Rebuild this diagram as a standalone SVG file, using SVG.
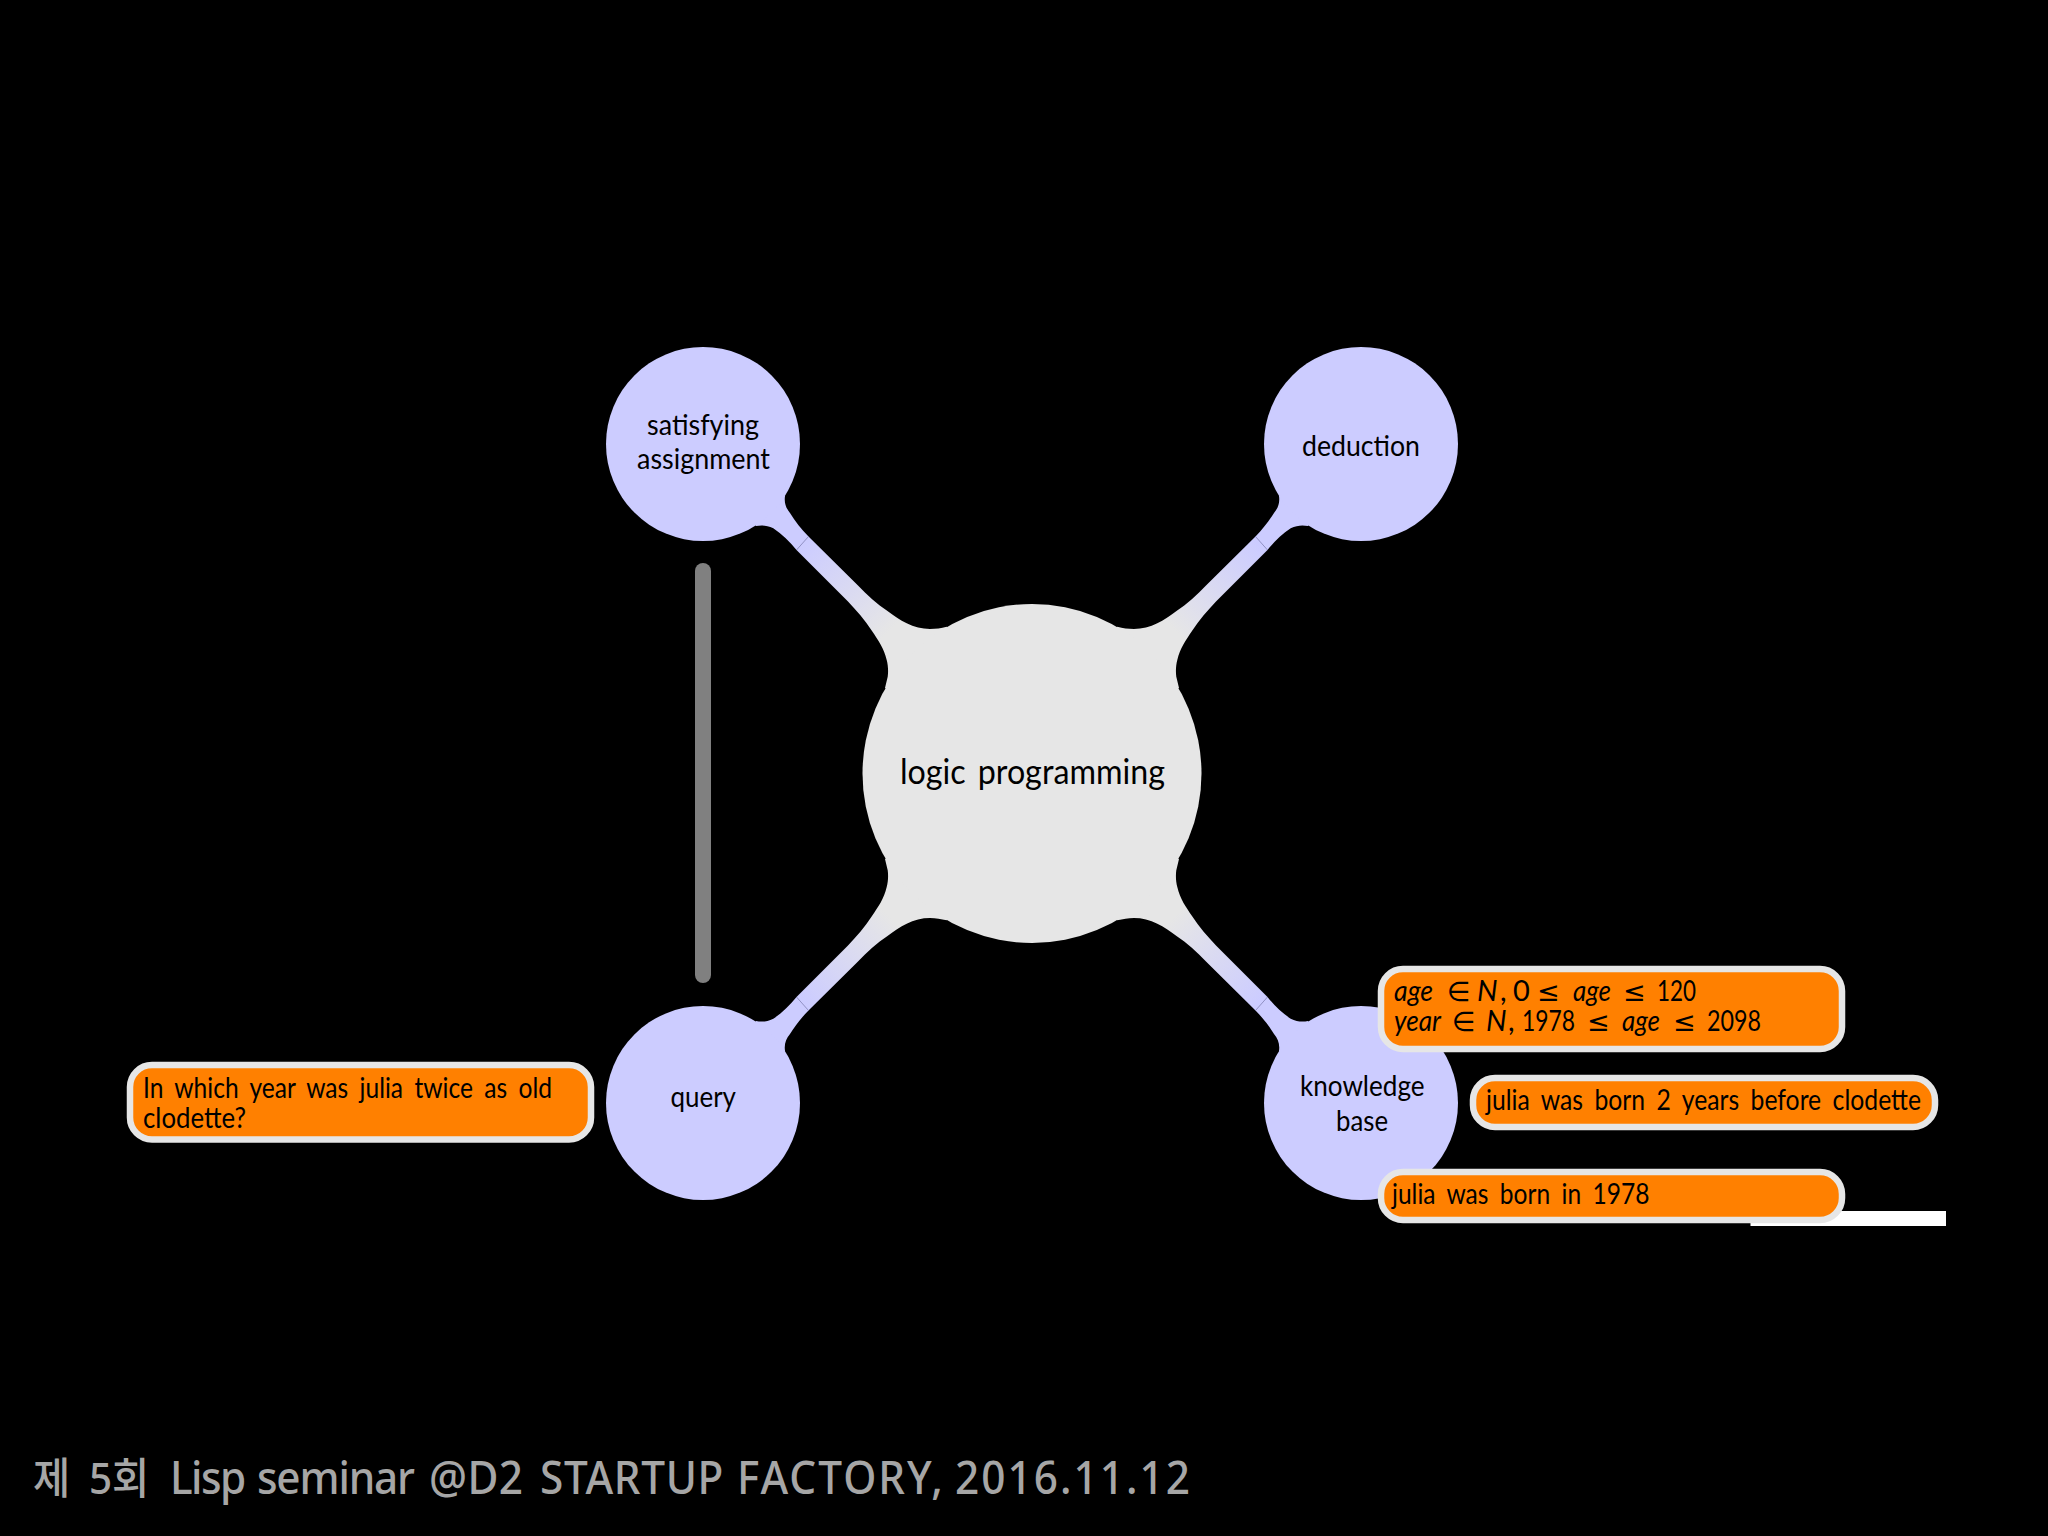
<svg xmlns="http://www.w3.org/2000/svg" width="2048" height="1536" viewBox="0 0 2048 1536">
<style>
text{font-family:"Lato","Open Sans","Liberation Sans",sans-serif;fill:#000}
.n{font-size:29px;word-spacing:3px}
.b{font-size:29px;word-spacing:6px}
.m{font-size:29px}
.i{font-style:italic}
.s{font-family:"DejaVu Sans",sans-serif;font-size:27px}
.box{fill:#ff8000;stroke:#e6e6e6;stroke-width:6.500}
.sat{fill:#ccccff}
.foot{font-family:"Noto Sans","Noto Sans CJK KR",sans-serif;font-size:45px;font-weight:500;fill:#a6a6a6}
.ko{font-size:43px}
</style>
<defs>
<linearGradient id="tube" gradientUnits="userSpaceOnUse" x1="805" y1="545" x2="890" y2="630">
<stop offset="0" stop-color="#ccccff"/><stop offset="1" stop-color="#e6e6e6"/>
</linearGradient>
<g id="arm">
<path d="M785 496C784 503 786 508 790 513C795 521 801 529 808.500 536.500L858 585.500C867 595 877 604 887.500 611C894 616 900 620 906.700 623.300C914 627 922 629 930 629C936 629 941 628 946.700 626.700L1032 773L885 688L887.700 676.700C888.500 671 888 665 886.700 660C884 648 878 640 872 631C865 620 856 610 848 601.500L796.500 550C790 542 782 534 773.300 528.300C767 525 761 525 756 526L703 444Z" fill="url(#tube)"/>
<path d="M808.500 536.500L796.500 550" stroke="#7777aa" stroke-width="0.700" fill="none"/>
</g>
</defs>
<rect width="2048" height="1536" fill="#000"/>
<g id="connectors">
<use href="#arm"/>
<use href="#arm" transform="matrix(-1 0 0 1 2064 0)"/>
<use href="#arm" transform="matrix(1 0 0 -1 0 1547)"/>
<use href="#arm" transform="matrix(-1 0 0 -1 2064 1547)"/>
</g>
<rect id="divider" x="695" y="563" width="16" height="420" rx="8" fill="#808080"/>
<g id="center"><circle cx="1032" cy="773.500" r="169.500" fill="#e6e6e6"/>
<text x="900" y="784" font-size="34.500" word-spacing="4" textLength="265" lengthAdjust="spacingAndGlyphs">logic programming</text></g>
<g id="satisfying"><circle class="sat" cx="703" cy="444" r="97"/>
<text class="n" x="647" y="435" textLength="112" lengthAdjust="spacingAndGlyphs">satisfying</text>
<text class="n" x="637" y="469" textLength="133" lengthAdjust="spacingAndGlyphs">assignment</text></g>
<g id="deduction"><circle class="sat" cx="1361" cy="444" r="97"/>
<text class="n" x="1302" y="456" textLength="118" lengthAdjust="spacingAndGlyphs">deduction</text></g>
<g id="query"><circle class="sat" cx="703" cy="1103" r="97"/>
<text class="n" x="670.500" y="1107" textLength="65.500" lengthAdjust="spacingAndGlyphs">query</text></g>
<g id="knowledge"><circle class="sat" cx="1361" cy="1103" r="97"/>
<text class="n" x="1300" y="1096" textLength="124.500" lengthAdjust="spacingAndGlyphs">knowledge</text>
<text class="n" x="1336" y="1131" textLength="52" lengthAdjust="spacingAndGlyphs">base</text></g>
<rect id="underline" x="1750.500" y="1211" width="195.500" height="15" fill="#fff"/>
<g id="box-query"><rect class="box" x="130" y="1065" width="461" height="74.500" rx="22"/>
<text class="b" x="143" y="1097.500" textLength="409" lengthAdjust="spacingAndGlyphs">In which year was julia twice as old</text>
<text class="b" x="143" y="1127.500" textLength="103" lengthAdjust="spacingAndGlyphs">clodette?</text></g>
<g id="box-domain"><rect class="box" x="1381" y="969" width="461" height="80" rx="22"/>
<text class="m" y="1000.500"><tspan class="i" x="1394" textLength="39" lengthAdjust="spacingAndGlyphs">age</tspan><tspan class="s" x="1447">∈</tspan><tspan class="i" x="1477">N</tspan><tspan x="1500">,</tspan><tspan x="1513">0</tspan><tspan class="s" x="1537">≤</tspan><tspan class="i" x="1573" textLength="38" lengthAdjust="spacingAndGlyphs">age</tspan><tspan class="s" x="1623">≤</tspan><tspan x="1657" textLength="39" lengthAdjust="spacingAndGlyphs">120</tspan></text>
<text class="m" y="1031"><tspan class="i" x="1394" textLength="47" lengthAdjust="spacingAndGlyphs">year</tspan><tspan class="s" x="1452">∈</tspan><tspan class="i" x="1486">N</tspan><tspan x="1508">,</tspan><tspan x="1522" textLength="53" lengthAdjust="spacingAndGlyphs">1978</tspan><tspan class="s" x="1587">≤</tspan><tspan class="i" x="1622" textLength="38" lengthAdjust="spacingAndGlyphs">age</tspan><tspan class="s" x="1673">≤</tspan><tspan x="1707" textLength="54" lengthAdjust="spacingAndGlyphs">2098</tspan></text></g>
<g id="box-relation"><rect class="box" x="1473" y="1078" width="462" height="49" rx="22"/>
<text class="b" x="1486" y="1110" textLength="435" lengthAdjust="spacingAndGlyphs">julia was born 2 years before clodette</text></g>
<g id="box-birth"><rect class="box" x="1381" y="1172" width="461" height="48" rx="22"/>
<text class="b" x="1392" y="1203.500" textLength="257.500" lengthAdjust="spacingAndGlyphs">julia was born in 1978</text></g>
<text class="foot" transform="scale(.94 1)" y="1494"><tspan class="ko" x="35.100">제</tspan> <tspan class="ko" x="94.700">5회</tspan> <tspan x="180.900" textLength="81">Lisp</tspan> <tspan x="273.400" textLength="168">seminar</tspan> <tspan x="456.400" textLength="100">@D2</tspan> <tspan x="574.500" textLength="195">STARTUP</tspan> <tspan x="784" textLength="219">FACTORY,</tspan> <tspan x="1016" textLength="250">2016.11.12</tspan></text>
</svg>
